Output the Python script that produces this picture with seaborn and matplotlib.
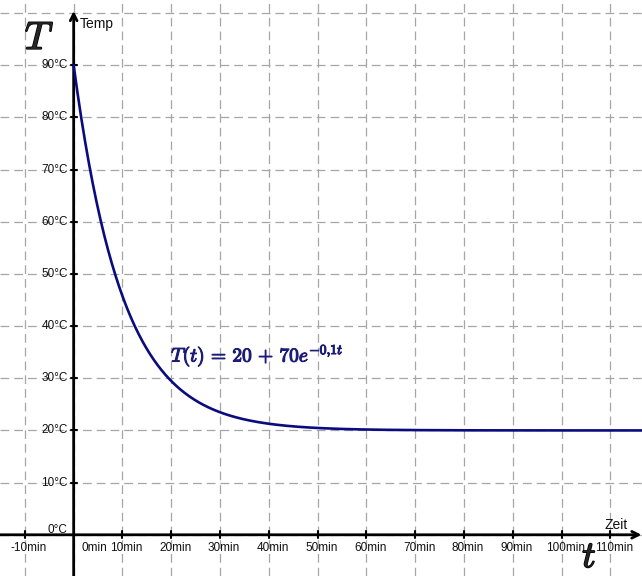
import numpy as np
import pandas as pd
import matplotlib
matplotlib.use("Agg")
import matplotlib.pyplot as plt
import matplotlib.patheffects as pe
import seaborn as sns

# Newton's law of cooling: T(t) = T_env + dT0 * exp(-k t)
T_env = 20
dT0 = 70
k = 0.1

x_ticks = [-10, 0, 10, 20, 30, 40, 50, 60, 70, 80, 90, 100, 110]
x_labels = ["-10min", "0min", "10min", "20min", "30min", "40min", "50min",
            "60min", "70min", "80min", "90min", "100min", "110min"]
y_ticks = [0, 10, 20, 30, 40, 50, 60, 70, 80, 90]
y_labels = ["0°C", "10°C", "20°C", "30°C", "40°C", "50°C", "60°C",
            "70°C", "80°C", "90°C"]

t = np.linspace(0, 117, 600)
df = pd.DataFrame({"Zeit": t, "Temp": T_env + dT0 * np.exp(-k * t)})

sns.set_theme(style="white")
plt.rcParams["font.family"] = ["Liberation Sans", "DejaVu Sans"]
plt.rcParams["mathtext.fontset"] = "cm"

fig = plt.figure(figsize=(6.42, 5.76), dpi=100)
ax = fig.add_axes([0, 0, 1, 1])
ax.set_xlim(-15.1, 116.5)
ax.set_ylim(-7.9, 102.5)
for s in ax.spines.values():
    s.set_visible(False)

# dashed grid
grid_x = x_ticks
grid_y = y_ticks + [100]
for gx in grid_x:
    ax.axvline(gx, color="#a6a6a6", lw=0.9, ls=(0, (7, 4)), zorder=0)
for gy in grid_y:
    ax.axhline(gy, color="#a6a6a6", lw=0.9, ls=(0, (7, 4)), zorder=0)

ax.set_xticks([])
ax.set_yticks([])

# axes with arrows
ax.annotate("", xy=(116.4, 0), xytext=(-15.1, 0),
            arrowprops=dict(arrowstyle="->", lw=2, color="black",
                            shrinkA=0, shrinkB=0, mutation_scale=12), zorder=3)
ax.annotate("", xy=(0, 100.4), xytext=(0, -7.9),
            arrowprops=dict(arrowstyle="->", lw=2, color="black",
                            shrinkA=0, shrinkB=0, mutation_scale=12), zorder=3)

# tick marks on the axes
for xt in x_ticks:
    if xt != 0:
        ax.plot([xt, xt], [-0.7, 0.7], color="black", lw=1.5, zorder=3)
for yt in y_ticks:
    if yt != 0:
        ax.plot([-0.6, 0.6], [yt, yt], color="black", lw=1.5, zorder=3)

# tick labels
for xt, lab in zip(x_ticks, x_labels):
    xpos = xt + 4.3 if xt == 0 else xt + 0.8
    ax.text(xpos, -2.5, lab, ha="center", va="center", fontsize=8.5, color="#111111")
for yt, lab in zip(y_ticks, y_labels):
    ypos = yt + 1.0 if yt == 0 else yt
    ax.text(-1.2, ypos, lab, ha="right", va="center", fontsize=8.5, color="#111111")

ax.text(1.2, 97.9, "Temp", ha="left", va="center", fontsize=10, color="#111111")
ax.text(108.8, 1.8, "Zeit", ha="left", va="center", fontsize=10, color="#111111")

bold = [pe.withStroke(linewidth=1.1, foreground="black")]
ax.text(-7.0, 95.0, r"$\mathit{T}$", fontsize=28, ha="center", va="center",
        path_effects=bold)
ax.text(105.7, -4.3, r"$\mathit{t}$", fontsize=27, ha="center", va="center",
        path_effects=bold)

# cooling curve
sns.lineplot(data=df, x="Zeit", y="Temp", ax=ax, color="#0b0b80", lw=1.9, zorder=4)
ax.set_xlabel("")
ax.set_ylabel("")

ax.text(20.0, 34.3, r"$T(t)\,=\,20\,+\,70e^{-0{,}1t}$",
        fontsize=14, color="#1c1c78", ha="left", va="center", zorder=5,
        path_effects=[pe.withStroke(linewidth=0.8, foreground="#1c1c78")])

fig.savefig("out.png", dpi=100)
